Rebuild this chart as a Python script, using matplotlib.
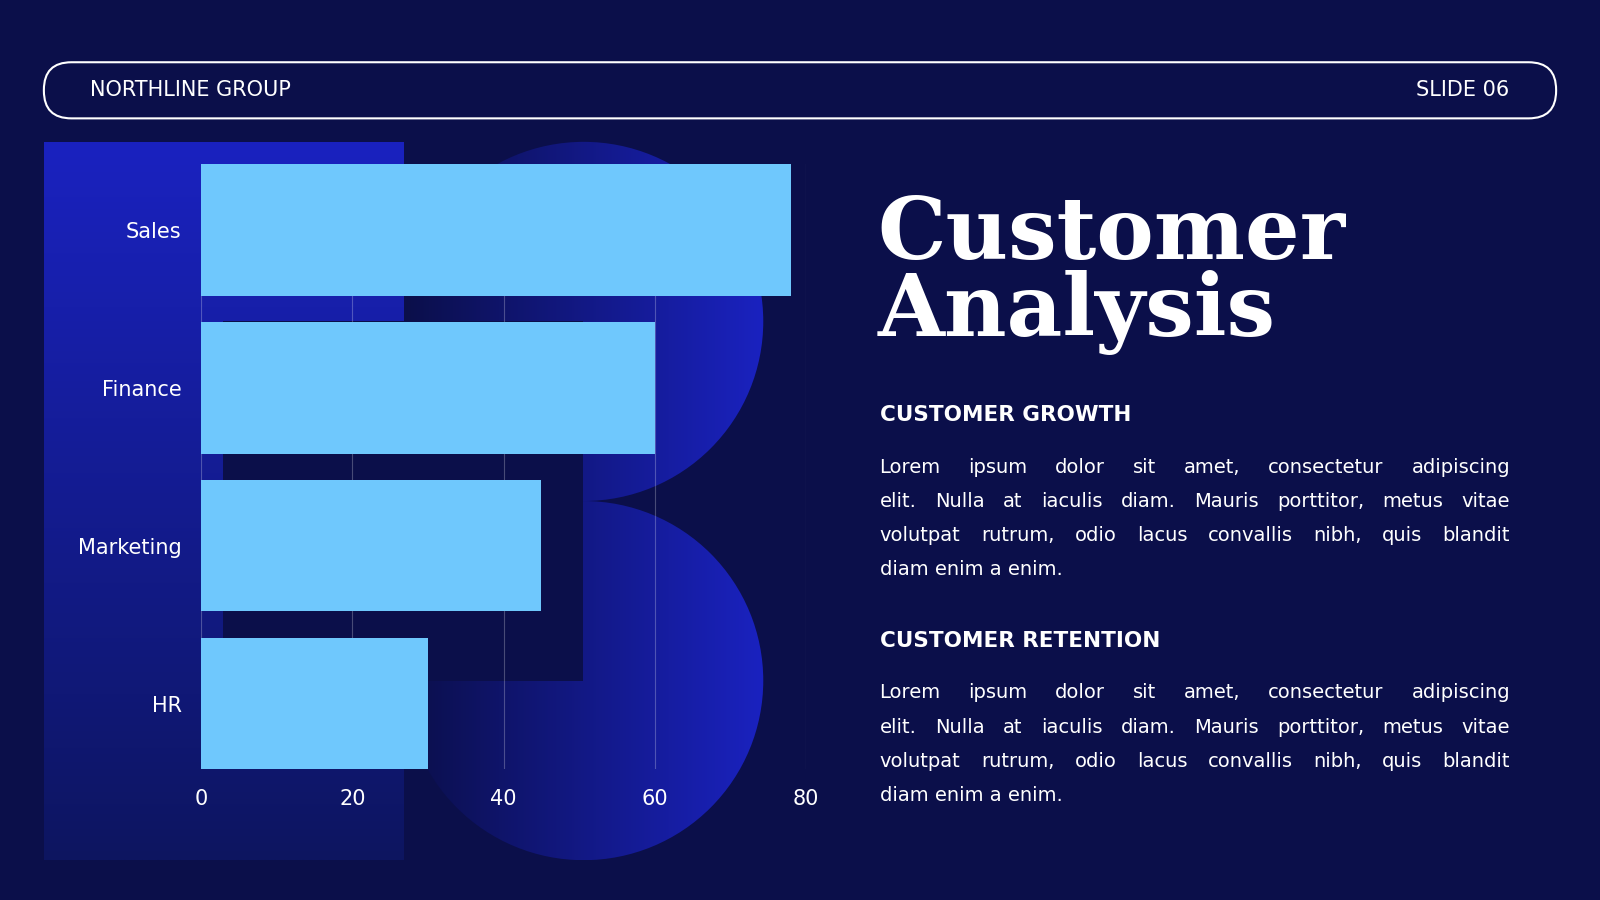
import matplotlib.pyplot as plt
import numpy as np
from matplotlib.patches import FancyBboxPatch, Rectangle, Circle

# data
categories = ["Sales", "Finance", "Marketing", "HR"]
values = [78, 60, 45, 30]
xticks = [0, 20, 40, 60, 80]

body_lines = ["Lorem ipsum dolor sit amet, consectetur adipiscing",
              "elit. Nulla at iaculis diam. Mauris porttitor, metus vitae",
              "volutpat rutrum, odio lacus convallis nibh, quis blandit",
              "diam enim a enim."]

W, H = 1568, 882
BG = "#0b0f4a"
SANS = "DejaVu Sans"
fig = plt.figure(figsize=(16, 9), dpi=100, facecolor=BG)

# background layer in pixel coordinates of the reference
bg = fig.add_axes([0, 0, 1, 1])
bg.set_xlim(0, W)
bg.set_ylim(H, 0)
bg.axis("off")
bg.set_facecolor(BG)

def gradient(ax, patch, x0, x1, y0, y1, c0, c1, horizontal=True):
    ax.add_patch(patch)
    patch.set_facecolor("none")
    patch.set_edgecolor("none")
    g = np.linspace(0, 1, 256)
    a = np.array(plt.matplotlib.colors.to_rgb(c0))
    b = np.array(plt.matplotlib.colors.to_rgb(c1))
    img = a[None, :] * (1 - g[:, None]) + b[None, :] * g[:, None]
    img = img[None, :, :] if horizontal else img[:, None, :]
    im = ax.imshow(img, extent=(x0, x1, y1, y0), aspect="auto", zorder=1)
    im.set_clip_path(patch)

r1 = Rectangle((43, 139), 352, 704)
gradient(bg, r1, 43, 395, 139, 843, "#1a22c0", "#0d1560", horizontal=False)
c1 = Circle((572, 315), 176)
gradient(bg, c1, 396, 748, 139, 491, "#0b0f4a", "#1a22c0")
c2 = Circle((572, 667), 176)
gradient(bg, c2, 396, 748, 491, 843, "#0b0f4a", "#1a22c0")
bg.add_patch(Rectangle((219, 315), 352, 352, facecolor=BG, edgecolor="none", zorder=2))

# header
bg.add_patch(FancyBboxPatch((43, 61), 1482, 55, boxstyle="round,pad=0,rounding_size=27",
                            facecolor="none", edgecolor="white", lw=1.5, zorder=3))
bg.text(88, 88, "NORTHLINE GROUP", color="white", fontsize=15, family=SANS,
        va="center", ha="left", zorder=4)
bg.text(1479, 88, "SLIDE 06", color="white", fontsize=15, family=SANS,
        va="center", ha="right", zorder=4)

# right text
bg.text(860, 230, "Customer", color="white", fontsize=62, family="DejaVu Serif",
        weight="bold", va="center", ha="left")
bg.text(860, 306, "Analysis", color="white", fontsize=62, family="DejaVu Serif",
        weight="bold", va="center", ha="left")

fig.canvas.draw()
renderer = fig.canvas.get_renderer()
inv = bg.transData.inverted()

def text_width(t):
    bb = t.get_window_extent(renderer)
    (x0, _), (x1, _) = inv.transform([(bb.x0, bb.y0), (bb.x1, bb.y0)])
    return x1 - x0

def justified(lines, x0, x1, y, dy, size):
    for i, line in enumerate(lines):
        yy = y + i * dy
        if i == len(lines) - 1:
            bg.text(x0, yy, line, color="white", fontsize=size, family=SANS, va="center")
            continue
        words = line.split()
        arts = [bg.text(0, yy, w, color="white", fontsize=size, family=SANS, va="center")
                for w in words]
        widths = [text_width(a) for a in arts]
        gap = (x1 - x0 - sum(widths)) / (len(words) - 1)
        x = x0
        for a, w in zip(arts, widths):
            a.set_x(x)
            x += w + gap

for head, y in [("CUSTOMER GROWTH", 407), ("CUSTOMER RETENTION", 628)]:
    bg.text(862, y, head, color="white", fontsize=15.5, family=SANS,
            weight="bold", va="center", ha="left")
    justified(body_lines, 862, 1480, y + 51, 33.5, 14)

# chart axes
ax = fig.add_axes([197 / W, 1 - 754 / H, (790 - 197) / W, (754 - 161) / H])
ax.patch.set_alpha(0)
y = np.arange(len(categories))
ax.barh(y, values, height=0.832, color="#6fc8fd", zorder=3)
ax.set_ylim(3.416, -0.416)
ax.set_xlim(0, 80)
ax.set_xticks(xticks)
ax.set_yticks(y, categories)
ax.grid(axis="x", color="white", alpha=0.25, lw=0.8, zorder=0)
for s in ax.spines.values():
    s.set_visible(False)
ax.tick_params(length=0, colors="white", labelsize=15, pad=14)
for lab in ax.get_xticklabels() + ax.get_yticklabels():
    lab.set_family(SANS)

fig.savefig("out.png", dpi=100, facecolor=BG)
